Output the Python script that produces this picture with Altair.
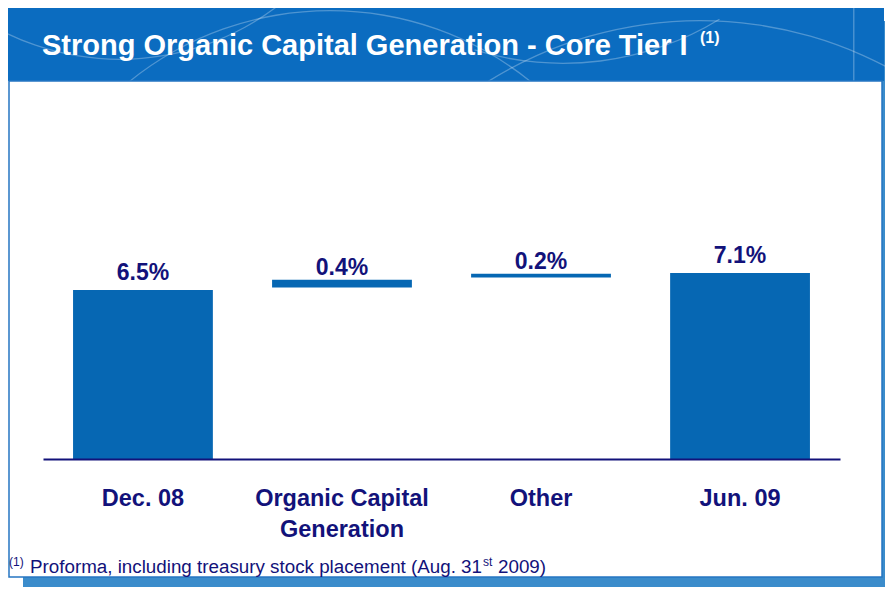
import math
import altair as alt
import pandas as pd

# ---- data ----
categories = ["Dec. 08", "Organic Capital Generation", "Other", "Jun. 09"]
bar_start = [0.0, 6.58, 6.96, 0.0]
bar_end = [6.48, 6.88, 7.11, 7.13]
value_labels = ["6.5%", "0.4%", "0.2%", "7.1%"]
kind = ["total", "change", "change", "total"]

title_text = "Strong Organic Capital Generation - Core Tier I"
title_note = "(1)"
foot_note_mark = "(1)"
foot_part1 = "Proforma, including treasury stock placement (Aug. 31"
foot_sup = "st"
foot_part2 = "2009)"

df = pd.DataFrame({
    "category": categories,
    "start": bar_start,
    "end": bar_end,
    "label": value_labels,
    "kind": kind,
})

FONT = "Liberation Sans"
NAVY = "#12127a"
BAR = "#0667b3"
BANNER = "#0b6cc0"
SHADOW = "#3b8ccb"
BORDER = "#2676c2"

one = pd.DataFrame({"d": [0]})

y_scale = alt.Scale(domain=[0, 14])

x_axis = alt.Axis(
    title=None, labelAngle=0, ticks=False, grid=False, zindex=1,
    domainColor=NAVY, domainWidth=2,
    labelColor=NAVY, labelFont=FONT, labelFontSize=23.5, labelFontWeight="bold",
    labelPadding=27, labelLineHeight=31, labelLimit=400, labelOverlap=False,
    labelExpr="datum.value == 'Organic Capital Generation' ? ['Organic Capital', 'Generation'] : datum.value",
)

x_enc = alt.X("category:N", sort=categories,
              scale=alt.Scale(paddingInner=0.2975, paddingOuter=0.151),
              axis=x_axis)
x_plain = alt.X("category:N", sort=categories)

def rect(x, x2, y, y2, **kw):
    return alt.Chart(one).mark_rect(**kw).encode(
        x=alt.value(x), x2=alt.value(x2), y=alt.value(y), y2=alt.value(y2))

shadow = rect(-20, 842, -73, 493, color=SHADOW)
banner = rect(-37, 841, -90, -13, color=BANNER)
panel = rect(-34, 839, -13, 483, fill="white", stroke=BORDER, strokeWidth=1.5)

# faint decorative curves on the banner
def arc(cx, cy, r, t0, t1):
    return alt.Chart(one).mark_arc(
        color="white", opacity=0.28, radius=r, radius2=r - 1.3,
        theta=t0, theta2=t1).encode(x=alt.value(cx), y=alt.value(cy))

TAU = 2 * math.pi
deco = [
    arc(287, 236, 320, TAU - 0.68, TAU + 0.68),
    arc(657, 326, 400, TAU - 0.56, TAU + 0.56),
    arc(77, -294, 260, math.pi - 0.67, math.pi + 0.67),
    arc(520, -330, 300, math.pi - 0.55, math.pi + 0.3),
]
vline = rect(810, 811.5, -90, -13, color="white", opacity=0.25)

bars = alt.Chart(df).mark_bar(color=BAR).encode(
    x=x_enc,
    y=alt.Y("start:Q", scale=y_scale, axis=None),
    y2="end:Q",
)

txt_style = dict(font=FONT, fontSize=23, fontWeight="bold", color=NAVY,
                 baseline="alphabetic", align="center")

lab_total = alt.Chart(df).transform_filter("datum.kind == 'total'").mark_text(
    dy=-10, **txt_style).encode(
    x=x_plain, y=alt.Y("end:Q", scale=y_scale, axis=None), text="label:N")

lab_change = alt.Chart(df).transform_filter("datum.kind == 'change'").mark_text(
    dy=-4.6, **txt_style).encode(
    x=x_plain, y=alt.Y("end:Q", scale=y_scale, axis=None), text="label:N")

def label(text, x, y, size, weight="normal", color=NAVY):
    return alt.Chart(one).mark_text(
        font=FONT, fontSize=size, fontWeight=weight, color=color,
        align="left", baseline="alphabetic").encode(
        x=alt.value(x), y=alt.value(y), text=alt.value(text))

title = label(title_text, -1, -39, 29, "bold", "white")
title_sup = label(title_note, 657, -51, 16, "bold", "white")

fn_mark = label(foot_note_mark, -34, 472, 12)
fn1 = label(foot_part1, -13, 479, 18.8)
fn_sup = label(foot_sup, 440, 472, 12)
fn2 = label(foot_part2, 455, 479, 18.8)

chart = alt.layer(
    shadow, banner, *deco, vline, panel, bars, lab_total, lab_change,
    title, title_sup, fn_mark, fn1, fn_sup, fn2,
).properties(
    width=797, height=365,
    autosize=alt.AutoSizeParams(type="none"),
    padding={"left": 35, "top": 86, "right": 45, "bottom": 128},
    background="white",
).configure_view(stroke=None)

chart.save("out.html", embed_options={"renderer": "svg", "actions": False})
